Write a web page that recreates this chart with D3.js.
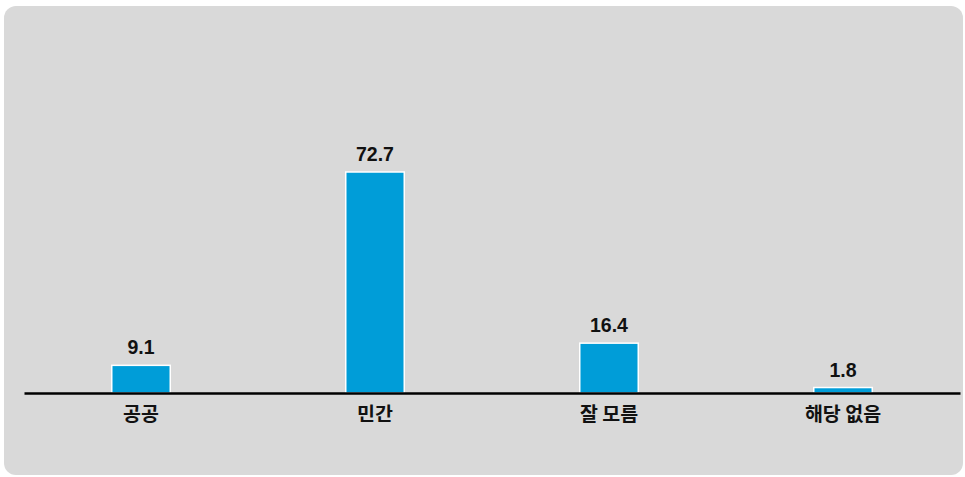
<!DOCTYPE html>
<html><head><meta charset="utf-8">
<script src="https://cdn.jsdelivr.net/npm/d3@7"></script>
<style>body{margin:0;background:#fff;}svg{display:block;}</style>
</head><body>
<svg id="c" width="965" height="477"></svg>
<script>
const categories = ["공공", "민간", "잘 모름", "해당 없음"];
const values = [9.1, 72.7, 16.4, 1.8];
const valueLabels = ["9.1", "72.7", "16.4", "1.8"];

const svg = d3.select("#c");
svg.append("rect").attr("x", 4).attr("y", 6).attr("width", 959).attr("height", 469)
  .attr("rx", 12).attr("fill", "#d9d9d9");

const baseY = 393;
const x = d3.scaleBand().domain(categories).range([24, 960]).paddingInner(0.75).paddingOuter(0.375);
const y = d3.scaleLinear().domain([0, 72.7]).range([baseY, 172]);

const numFont = "'Liberation Sans', Arial, sans-serif";
const krFont = "'Noto Sans CJK KR', 'Noto Sans', sans-serif";

svg.selectAll("rect.bar").data(values).enter().append("rect").attr("class", "bar")
  .attr("x", (d, i) => x(categories[i]))
  .attr("y", d => y(d))
  .attr("width", x.bandwidth())
  .attr("height", d => baseY - y(d))
  .attr("fill", "#009dd8").attr("stroke", "#fff").attr("stroke-width", 1.5);

svg.selectAll("text.val").data(values).enter().append("text").attr("class", "val")
  .attr("x", (d, i) => x(categories[i]) + x.bandwidth() / 2)
  .attr("y", d => y(d) - 11)
  .attr("text-anchor", "middle").attr("font-family", numFont).attr("font-weight", "bold")
  .attr("font-size", 19.5).attr("fill", "#111")
  .text((d, i) => valueLabels[i]);

const axis = d3.axisBottom(x).tickSize(0).tickPadding(14);
const g = svg.append("g").attr("transform", `translate(0,${baseY})`).call(axis);
g.select(".domain").attr("stroke", "#000").attr("stroke-width", 2.5);
g.selectAll(".tick text").attr("font-family", krFont).attr("font-weight", "bold")
  .attr("font-size", 19.5).attr("fill", "#111");
</script>
</body></html>
